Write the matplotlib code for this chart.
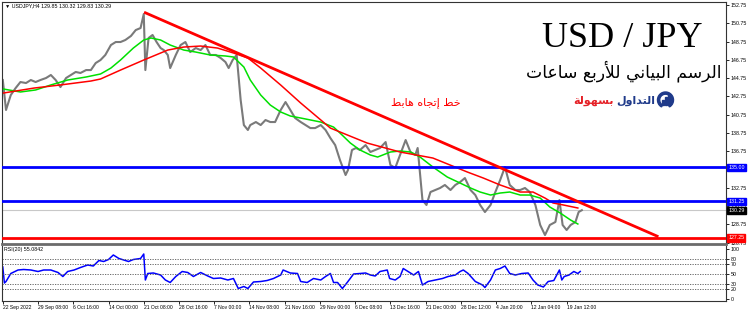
import numpy as np
import matplotlib
matplotlib.use("Agg")
import matplotlib.pyplot as plt
from matplotlib.patches import Wedge, Rectangle

plt.rcParams['font.family'] = ['Liberation Sans', 'DejaVu Sans']

# x values are H4 bar numbers, bar 0 = 22 Sep 2022 00:00
price_bar = [0, 4, 10, 16, 22, 29, 35, 41, 47, 54, 60, 66, 72, 79, 85, 91, 97, 104, 110, 116,
             122, 128, 135, 141, 147, 153, 160, 166, 172, 176, 178, 182, 187, 192, 197, 201, 206,
             209, 216, 222, 228, 234, 241, 247, 253, 259, 266, 272, 278, 282, 287, 292, 297, 301,
             306, 309, 316, 322, 328, 334, 340, 347, 353, 359, 365, 372, 378, 384, 390, 397, 403,
             409, 415, 421, 428, 431, 436, 441, 446, 453, 459, 465, 471, 478, 484, 490, 496, 503,
             509, 515, 518, 524, 529, 534, 540, 546, 552, 559, 565, 571, 577, 584, 590, 596, 602,
             609, 615, 621, 627, 633, 640, 646, 652, 658, 665, 671, 677, 683, 690, 695, 699, 704,
             709, 715, 719, 723]
price = [144.54, 141.26, 142.90, 143.66, 144.32, 144.21, 144.54, 144.32, 144.54, 144.76, 145.09,
         144.54, 143.77, 144.76, 145.09, 145.42, 145.31, 145.63, 145.63, 146.40, 146.73, 147.28,
         148.37, 148.70, 148.70, 148.92, 149.36, 150.01, 150.23, 151.76, 145.63, 149.14, 149.47,
         148.70, 148.04, 147.82, 147.28, 145.85, 147.28, 148.37, 148.70, 147.60, 148.04, 147.82,
         148.37, 147.28, 147.28, 146.95, 146.51, 145.85, 146.73, 147.28, 142.35, 139.61, 139.07,
         139.61, 139.94, 139.61, 140.16, 139.94, 139.94, 141.26, 142.13, 141.26, 140.38, 139.94,
         139.61, 139.28, 139.28, 139.61, 139.07, 138.19, 137.42, 135.78, 134.14, 134.69, 136.88,
         137.10, 136.88, 137.42, 136.66, 136.88, 137.10, 137.75, 135.23, 134.91, 136.33, 137.97,
         136.66, 136.33, 137.10, 131.40, 130.86, 132.28, 132.50, 132.72, 133.05, 132.50, 133.05,
         133.37, 133.81, 132.50, 131.95, 130.86, 130.09, 130.86, 132.28, 133.59, 135.02, 133.05,
         132.50, 132.50, 132.72, 132.28, 130.86, 128.67, 127.57, 128.67, 129.00, 131.40, 128.67,
         128.12, 128.67, 129.00, 130.09, 130.29]

ma_fast_bar = [1, 22, 41, 60, 81, 104, 122, 135, 147, 163, 176, 185, 197, 209, 226, 241, 259,
               278, 288, 301, 309, 322, 334, 347, 359, 372, 397, 413, 421, 434, 446, 459, 468,
               484, 496, 509, 521, 537, 555, 571, 584, 596, 609, 621, 633, 646, 658, 671, 683,
               696, 709, 718]
ma_fast = [143.55, 143.23, 143.45, 144.00, 144.54, 144.87, 145.20, 145.85, 146.73, 148.04,
           148.92, 149.14, 148.92, 148.37, 147.82, 147.60, 147.28, 147.17, 147.06, 145.96,
           144.54, 142.90, 141.80, 141.04, 140.60, 140.38, 139.94, 139.39, 138.74, 137.64,
           136.88, 136.33, 136.11, 136.66, 136.77, 136.66, 136.11, 135.02, 133.92, 133.26,
           132.72, 132.28, 131.95, 132.17, 132.28, 131.95, 131.95, 131.62, 130.64, 129.98,
           129.21, 128.78]

ma_slow_bar = [1, 39, 72, 110, 122, 147, 176, 206, 226, 247, 268, 288, 306, 322, 347, 372, 409,
               455, 496, 537, 580, 600, 621, 646, 662, 677, 687, 700, 718]
ma_slow = [143.12, 143.66, 144.00, 144.43, 144.65, 145.63, 146.73, 147.82, 148.15, 148.26,
           148.04, 147.50, 146.95, 145.85, 143.99, 142.02, 139.28, 137.64, 136.66, 136.00,
           134.47, 133.81, 133.05, 132.28, 132.28, 131.62, 131.08, 130.86, 130.53]

rsi_bar = [0, 2, 4, 10, 19, 26, 35, 44, 51, 60, 69, 75, 81, 89, 97, 106, 113, 120, 126, 132,
           138, 145, 151, 157, 163, 172, 176, 178, 181, 188, 197, 203, 209, 216, 224, 231, 238,
           247, 256, 263, 272, 281, 288, 294, 301, 306, 313, 322, 330, 338, 347, 350, 359, 368,
           372, 380, 388, 397, 403, 409, 413, 418, 424, 430, 438, 446, 453, 459, 465, 471, 480,
           483, 490, 496, 500, 506, 513, 519, 524, 531, 540, 549, 556, 565, 571, 575, 581, 590,
           599, 602, 609, 615, 621, 627, 633, 640, 648, 656, 662, 668, 675, 681, 688, 695, 698,
           701, 707, 713, 718, 721]
rsi = [64, 32, 35, 51, 58, 59, 58, 55, 58, 58, 53, 45, 55, 58, 63, 68, 66, 77, 75, 79, 88, 81,
       78, 75, 79, 81, 90, 38, 51, 52, 48, 38, 33, 45, 55, 53, 45, 53, 46, 41, 42, 38, 41, 21, 25,
       21, 34, 35, 37, 41, 48, 58, 52, 51, 35, 33, 41, 38, 45, 51, 33, 33, 21, 33, 50, 51, 52, 48,
       46, 55, 58, 41, 38, 45, 61, 55, 48, 55, 28, 35, 38, 41, 45, 48, 55, 58, 51, 35, 28, 23, 38,
       58, 61, 66, 51, 48, 51, 52, 38, 28, 24, 35, 37, 58, 38, 45, 48, 55, 51, 55.08]

date_labels = ["22 Sep 2022", "29 Sep 08:00", "6 Oct 16:00", "14 Oct 00:00", "21 Oct 08:00",
               "28 Oct 16:00", "7 Nov 00:00", "14 Nov 08:00", "21 Nov 16:00", "29 Nov 00:00",
               "6 Dec 08:00", "13 Dec 16:00", "21 Dec 00:00", "28 Dec 12:00", "4 Jan 20:00",
               "12 Jan 04:00", "19 Jan 12:00"]
bars_per_label = 44

trend_bar = [178, 817]
trend_price = [151.90, 127.45]
resistance = [135.00, 131.25]
support = 127.25
last_price = 130.29
# 134.75 sits under the 135.00 line label on the chart
price_ticks = [152.75, 150.75, 148.75, 146.75, 144.75, 142.75, 140.75, 138.75, 136.75,
               132.75, 130.75, 128.75, 126.75]
rsi_levels = [20, 30, 50, 70, 80]
rsi_ticks = [0, 20, 30, 50, 70, 80, 100]

FORMS = {
    'ا': '\ufe8d\ufe8e', 'أ': '\ufe83\ufe84', 'إ': '\ufe87\ufe88',
    'د': '\ufea9\ufeaa', 'ر': '\ufead\ufeae', 'و': '\ufeed\ufeee', 'ة': '\ufe93\ufe94',
    'ب': '\ufe8f\ufe90\ufe91\ufe92', 'ت': '\ufe95\ufe96\ufe97\ufe98',
    'ج': '\ufe9d\ufe9e\ufe9f\ufea0', 'خ': '\ufea5\ufea6\ufea7\ufea8',
    'س': '\ufeb1\ufeb2\ufeb3\ufeb4', 'ط': '\ufec1\ufec2\ufec3\ufec4',
    'ع': '\ufec9\ufeca\ufecb\ufecc', 'ل': '\ufedd\ufede\ufedf\ufee0',
    'م': '\ufee1\ufee2\ufee3\ufee4', 'ن': '\ufee5\ufee6\ufee7\ufee8',
    'ه': '\ufee9\ufeea\ufeeb\ufeec', 'ي': '\ufef1\ufef2\ufef3\ufef4',
}
LAM_ALEF = {'ا': '\ufefb\ufefc', 'أ': '\ufef7\ufef8', 'إ': '\ufef9\ufefa'}


def shape_word(word):
    letters = []
    i = 0
    while i < len(word):
        if word[i] == 'ل' and i + 1 < len(word) and word[i + 1] in LAM_ALEF:
            letters.append(LAM_ALEF[word[i + 1]])
            i += 2
        else:
            letters.append(FORMS[word[i]])
            i += 1
    out = []
    for k, f in enumerate(letters):
        joined_before = k > 0 and len(letters[k - 1]) == 4
        joins_after = len(f) == 4 and k + 1 < len(letters)
        if joined_before and joins_after:
            out.append(f[3])
        elif joined_before:
            out.append(f[1])
        elif joins_after:
            out.append(f[2])
        else:
            out.append(f[0])
    return ''.join(reversed(out))


def arabic(text):
    return ' '.join(shape_word(w) for w in reversed(text.split()))


fig = plt.figure(figsize=(7.5, 3.14), dpi=100)
ax = fig.add_axes([2 / 750, 1 - 244 / 314, 724 / 750, 242 / 314])
ax2 = fig.add_axes([2 / 750, 1 - 301 / 314, 724 / 750, 55 / 314], sharex=ax)

ax.plot(price_bar, price, color='#7a7a7a', lw=1.5, zorder=2)
ax.plot(ma_fast_bar, ma_fast, color='#00e000', lw=1.1, zorder=3)
ax.plot(ma_slow_bar, ma_slow, color='#ff0000', lw=1.1, zorder=3)
ax.axhline(last_price, color='#c8c8c8', lw=0.8, zorder=1)
for lvl in resistance:
    ax.axhline(lvl, color='#0000ff', lw=2, zorder=4)
ax.axhline(support, color='#ff0000', lw=2, zorder=4)
ax.plot(trend_bar, trend_price, color='#ff0000', lw=2, zorder=4)

ax.set_xlim(-1, 903)
ax.set_ylim(126.59, 153.08)
ax.set_yticks(price_ticks)
ax.set_yticklabels([f"{v:.2f}" for v in price_ticks])

ax2.plot(rsi_bar, rsi, color='#0000ff', lw=1.1)
for lvl in rsi_levels:
    ax2.axhline(lvl, color='#555555', lw=0.6, ls=(0, (1.5, 1.5)))
ax2.set_ylim(-4, 106)
ax2.set_yticks(rsi_ticks)

for a in (ax, ax2):
    a.yaxis.tick_right()
    a.tick_params(axis='y', direction='out', length=2, width=0.6, labelsize=3.8, pad=1.2)
    for s in a.spines.values():
        s.set_linewidth(0.8)
        s.set_color('#333333')
ax.spines['bottom'].set_linewidth(2)
ax.spines['bottom'].set_color('#6b6b6b')
ax2.spines['top'].set_visible(False)
ax.tick_params(axis='x', bottom=False, labelbottom=False)
ax2.set_xticks(np.arange(len(date_labels)) * bars_per_label)
ax2.set_xticklabels(date_labels)
ax2.tick_params(axis='x', direction='out', length=2, width=0.6, labelsize=3.6, pad=1)
for lab in ax2.get_xticklabels():
    lab.set_ha('left')

boxes = [(resistance[0], '#0000ff'), (resistance[1], '#0000ff'),
         (last_price, '#000000'), (support, '#ff0000')]
for val, bg in boxes:
    ax.annotate(f"{val:.2f}", xy=(1, val), xycoords=('axes fraction', 'data'),
                xytext=(1.6, 0), textcoords='offset points', ha='left', va='center',
                fontsize=3.8, color='white', annotation_clip=False, zorder=6,
                bbox=dict(boxstyle='square,pad=0.2', fc=bg, ec=bg))

ax.text(0.004, 0.984, "\u25bc USDJPY,H4 129.85 130.32 129.83 130.29", transform=ax.transAxes,
        fontsize=3.8, va='center', ha='left')
ax2.text(0.003, 0.93, "RSI(20) 55.0842", transform=ax2.transAxes,
         fontsize=3.8, va='center', ha='left')

fig.text(622 / 750, 1 - 47 / 314, "USD / JPY", family='Liberation Serif', fontsize=26,
         ha='center', va='baseline')
fig.text(624 / 750, 1 - 71 / 314, arabic("الرسم البياني للأربع ساعات"), family='DejaVu Sans',
         fontsize=12.3, ha='center', va='center')
fig.text(426 / 750, 1 - 103 / 314, arabic("خط إتجاه هابط"), family='DejaVu Sans',
         fontsize=8, color='#ff0000', ha='center', va='center')
fig.text(655 / 750, 1 - 101 / 314, arabic("التداول"), family='DejaVu Sans', fontsize=8,
         fontweight='bold', color='#1f3a8a', ha='right', va='center')
fig.text(614 / 750, 1 - 101 / 314, arabic("بسهولة"), family='DejaVu Sans', fontsize=8,
         fontweight='bold', color='#e52127', ha='right', va='center')

# small logo mark
fig.add_artist(Wedge((6.655, 2.14), 0.08, -60, 240, width=0.022, color='#1f3a8a',
                     transform=fig.dpi_scale_trans))
for i, h in enumerate([0.05, 0.08, 0.11]):
    fig.add_artist(Rectangle((6.615 + i * 0.03, 2.09), 0.02, h, color='#1f3a8a',
                             transform=fig.dpi_scale_trans))

fig.savefig("out.png", dpi=100)
